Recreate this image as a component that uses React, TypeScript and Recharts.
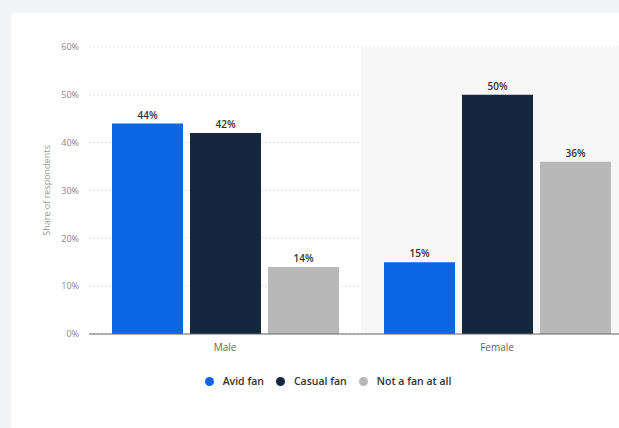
import React from "react";
import {
  BarChart,
  Bar,
  XAxis,
  YAxis,
  CartesianGrid,
  Legend,
  LabelList,
  ReferenceArea,
} from "recharts";

const genders = ["Male", "Female"];
const avidFan = [44, 15];
const casualFan = [42, 50];
const notAFan = [14, 36];
const yTicks = [0, 10, 20, 30, 40, 50, 60];

const data = genders.map((g, i) => ({
  name: g,
  avid: avidFan[i],
  casual: casualFan[i],
  none: notAFan[i],
}));

const FONT = "'Open Sans', 'Noto Sans', sans-serif";

const renderLegend = (props: any) => {
  const { payload } = props;
  return (
    <div style={{ display: "flex", justifyContent: "center", alignItems: "center", fontFamily: FONT }}>
      {payload.map((entry: any) => (
        <div key={entry.value} style={{ display: "flex", alignItems: "center", marginRight: 12 }}>
          <span
            style={{
              display: "inline-block",
              width: 9,
              height: 9,
              borderRadius: "50%",
              background: entry.color,
              marginRight: 9,
            }}
          />
          <span style={{ fontSize: 10.5, color: "#333", fontWeight: 600 }}>{entry.value}</span>
        </div>
      ))}
    </div>
  );
};

const valueLabel = (v: any) => `${v}%`;

export default function App() {
  return (
    <div
      style={{
        position: "absolute",
        left: 0,
        top: 0,
        width: 619,
        height: 428,
        overflow: "hidden",
        background: "#f3f4f6",
      }}
    >
      <div
        style={{
          position: "absolute",
          left: 11,
          top: 13,
          width: 640,
          height: 440,
          background: "#fff",
          borderRadius: 4,
        }}
      />
      <div style={{ position: "absolute", left: 0, top: 0 }}>
        <BarChart
          width={640}
          height={428}
          data={data}
          margin={{ top: 47, right: 7, left: 0, bottom: 44 }}
          barCategoryGap={23}
          barGap={7}
        >
          <ReferenceArea x1="Female" x2="Female" fill="#f7f7f7" fillOpacity={1} stroke="none" ifOverflow="visible" />
          <CartesianGrid vertical={false} stroke="#dcdcdc" strokeDasharray="2 2" />
          <XAxis
            dataKey="name"
            height={30}
            tickLine={false}
            axisLine={{ stroke: "#666", strokeWidth: 1 }}
            tick={{ fontSize: 10, fill: "#666", fontFamily: FONT }}
            tickSize={0}
            tickMargin={10}
          />
          <YAxis
            width={89}
            domain={[0, 60]}
            ticks={yTicks}
            tickFormatter={(v) => `${v}%`}
            axisLine={false}
            tickLine={false}
            tickSize={0}
            tickMargin={10}
            tick={{ fontSize: 9, fill: "#888", fontFamily: FONT }}
            label={{
              value: "Share of respondents",
              angle: -90,
              position: "insideLeft",
              offset: 47,
              style: { fontSize: 9, fill: "#999", fontFamily: FONT, textAnchor: "middle" },
            }}
          />
          <Legend
            content={renderLegend}
            wrapperStyle={{ left: 0, width: 668, top: 374, height: 20 }}
          />
          <Bar dataKey="avid" name="Avid fan" fill="#0b66e4" isAnimationActive={false}>
            <LabelList dataKey="avid" position="top" offset={5} formatter={valueLabel}
              style={{ fontSize: 10, fill: "#333", fontWeight: 600, fontFamily: FONT }} />
          </Bar>
          <Bar dataKey="casual" name="Casual fan" fill="#14273f" isAnimationActive={false}>
            <LabelList dataKey="casual" position="top" offset={5} formatter={valueLabel}
              style={{ fontSize: 10, fill: "#333", fontWeight: 600, fontFamily: FONT }} />
          </Bar>
          <Bar dataKey="none" name="Not a fan at all" fill="#b8b8b8" isAnimationActive={false}>
            <LabelList dataKey="none" position="top" offset={5} formatter={valueLabel}
              style={{ fontSize: 10, fill: "#333", fontWeight: 600, fontFamily: FONT }} />
          </Bar>
        </BarChart>
      </div>
    </div>
  );
}
